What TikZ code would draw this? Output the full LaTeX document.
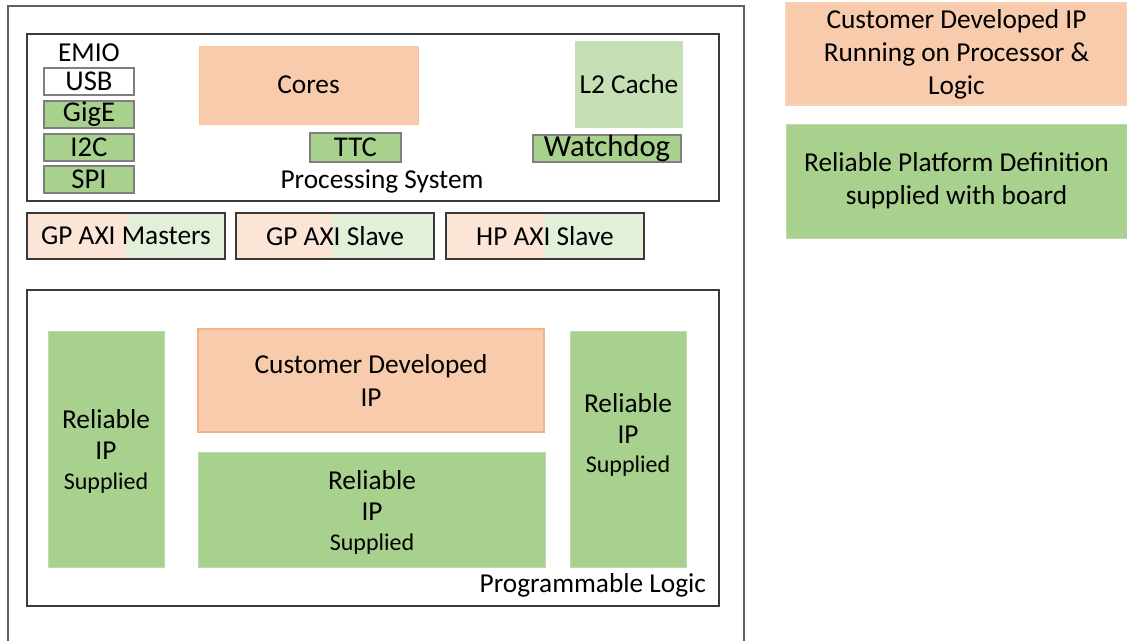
\documentclass[tikz,border=0pt]{standalone}
\usepackage{fontspec}
\setmainfont{Carlito}
\usetikzlibrary{calc}
\definecolor{peach}{HTML}{F8CBAD}
\definecolor{peachedge}{HTML}{F4B183}
\definecolor{grn}{HTML}{A9D18E}
\definecolor{lgrn}{HTML}{C5E0B4}
\definecolor{peachl}{HTML}{FBE5D6}
\definecolor{grnl}{HTML}{E2F0D9}
\definecolor{edge}{HTML}{3A3A3A}
\definecolor{gedge}{HTML}{7F7F7F}
\newcommand{\bx}[7]{\node[#6, minimum width={(#4-#2)*0.75pt}, minimum height={(#5-#3)*0.75pt}] (#1) at ({(#2+#4)/2},{(#3+#5)/2}) {#7};}
\newcommand{\sml}{\fontsize{18}{22}\selectfont}
\begin{document}
\begin{tikzpicture}[x=0.75pt,y=-0.75pt,
  every node/.style={inner sep=0pt, outer sep=0pt, align=center, font=\fontsize{20.5}{24.75}\selectfont},
  frame/.style={draw=edge, line width=1.2pt},
  small/.style={draw=gedge, line width=1.2pt},
  peachbox/.style={fill=peach, draw=peach!90!orange},
  custbox/.style={fill=peach, draw=peachedge, line width=1.2pt},
  grnbox/.style={fill=grn, draw=grn!90!black!60},
  lgrnbox/.style={fill=lgrn},
  lbl/.style={}]
\useasboundingbox (0,0) rectangle (1127,641);
\fill[white] (0,0) rectangle (1127,641);
% outer frame
\draw[frame, draw=edge!80] (8,645) -- (8,6) -- (744,6) -- (744,645);
% processing system
\bx{ps}{27}{34}{719}{201}{frame}{}
\node (emio) at (89,53) {EMIO};
\bx{usb}{44}{68}{134}{95}{small, fill=white, font=\fontsize{21.5}{24}\selectfont}{USB}
\bx{gige}{44}{101}{134}{128}{small, fill=grn, font=\fontsize{21.5}{24}\selectfont}{GigE}
\bx{i2c}{44}{134}{134}{161}{small, fill=grn, font=\fontsize{21.5}{24}\selectfont}{I2C}
\bx{spi}{44}{166}{134}{193}{small, fill=grn, font=\fontsize{21.5}{24}\selectfont}{SPI}
\bx{cores}{199}{46}{418}{124}{peachbox}{Cores}
\bx{ttc}{310}{133}{401}{162}{small, fill=grn, font=\fontsize{21.5}{24}\selectfont}{TTC}
\bx{l2}{575}{41}{683}{128}{lgrnbox}{L2 Cache}
\bx{wd}{533}{135}{681}{162}{small, fill=grn, font=\fontsize{23}{26}\selectfont}{Watchdog}
\node (pslbl) at (382,181) {Processing System};
% AXI
\fill[peachl] (27,213) rectangle (127,259);
\fill[grnl] (127,213) rectangle (225,259);
\bx{gpm}{27}{213}{225}{259}{frame}{GP AXI Masters}
\fill[peachl] (236,213) rectangle (333,259);
\fill[grnl] (333,213) rectangle (434,259);
\bx{gps}{236}{213}{434}{259}{frame}{GP AXI Slave}
\fill[peachl] (446,213) rectangle (544,259);
\fill[grnl] (544,213) rectangle (644,259);
\bx{hps}{446}{213}{644}{259}{frame}{HP AXI Slave}
% programmable logic
\bx{pl}{27}{290}{719}{606}{frame}{}
\bx{rl}{48}{331}{164}{567}{grnbox}{}
\node at (106,419) {Reliable};
\node at (106,451) {IP};
\node[font=\sml] at (106,483) {Supplied};
\bx{cust}{198}{329}{544}{432}{custbox}{}
\node at (371,366) {Customer Developed};
\node at (371,398) {IP};
\bx{rc}{198}{452}{545}{567}{grnbox}{}
\node at (372,480) {Reliable};
\node at (372,512) {IP};
\node[font=\sml] at (372,544) {Supplied};
\bx{rr}{570}{331}{686}{567}{grnbox}{}
\node at (628,403) {Reliable};
\node at (628,435) {IP};
\node[font=\sml] at (628,466) {Supplied};
\node[anchor=east] (pllbl) at (706,585) {Programmable Logic};
% legend
\bx{leg1}{786}{3}{1127}{105}{custbox, draw=peachedge!60}{Customer Developed IP\\Running on Processor \&\\Logic}
\bx{leg2}{786}{124}{1127}{238}{grnbox}{Reliable Platform Definition\\supplied with board}
\end{tikzpicture}
\end{document}
